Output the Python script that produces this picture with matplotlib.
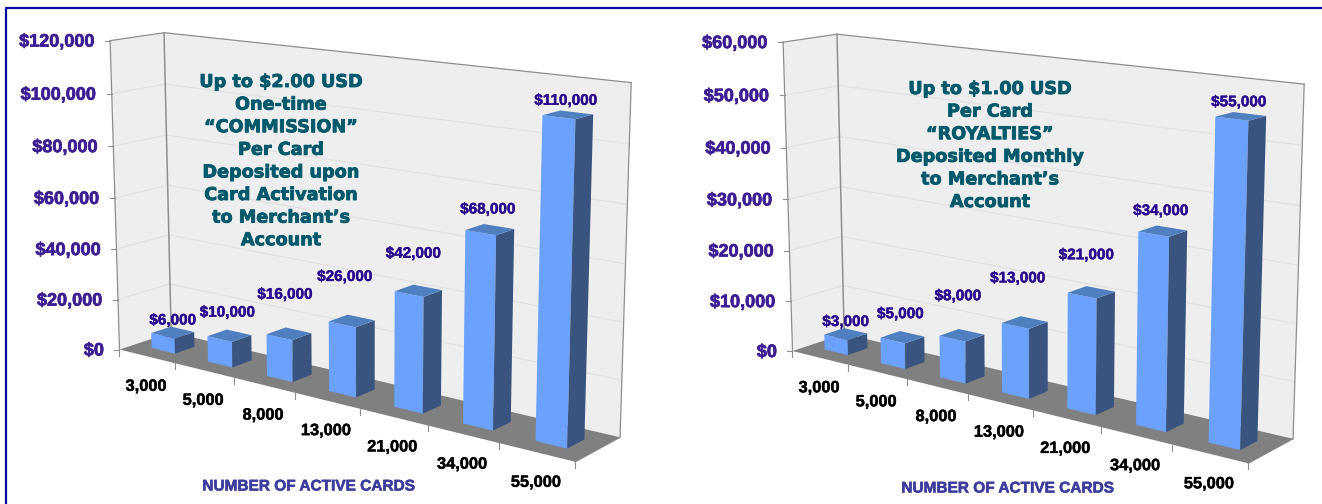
# Two perspective column charts: commission and royalty income by card count.

import numpy as np
import matplotlib
matplotlib.use("Agg")
import matplotlib.pyplot as plt
import matplotlib.patheffects as pe
from matplotlib.patches import Polygon

cards = ["3,000", "5,000", "8,000", "13,000", "21,000", "34,000", "55,000"]
commission = [6000, 10000, 16000, 26000, 42000, 68000, 110000]
royalties = [3000, 5000, 8000, 13000, 21000, 34000, 55000]
commission_ticks = [0, 20000, 40000, 60000, 80000, 100000, 120000]
royalty_ticks = [0, 10000, 20000, 30000, 40000, 50000, 60000]
commission_note = ["Up to $2.00 USD", "One-time", "\u201cCOMMISSION\u201d", "Per Card",
                   "Deposited upon", "Card Activation", "to Merchant\u2019s", "Account"]
royalty_note = ["Up to $1.00 USD", "Per Card", "\u201cROYALTIES\u201d", "Deposited Monthly",
                "to Merchant\u2019s", "Account"]
x_title = "NUMBER OF ACTIVE CARDS"

# hand placed lift of each value label above its column, in pixels
label_lift = [13, 24, 40, 45, 38, 21, 15]
label_shift = [0, -2, -4, -7, -5, -2, -2]

# box corners: (category position 0-1, depth 0-1, value 0-1) -> pixels
BOX_WORLD = [(0, 0, 0), (1, 0, 0), (1, 1, 0), (0, 1, 0),
             (0, 0, 1), (0, 1, 1), (1, 1, 1), (0, 1, 0.5), (1, 1, 0.5)]
BOX_PIXELS = [(119, 349), (575.5, 462), (620, 437), (172, 333),
              (110.4, 41), (164, 32.5), (631.5, 82.5), (167, 185), (625, 264)]

NAVY = "#0a0a9a"
TEAL = "#00596b"
TICK_PURPLE = "#3d1e92"
VALUE_PURPLE = "#2a0a8c"
TITLE_BLUE = "#3c3c9c"
WALL = "#eeeeee"
FLOOR = "#808080"
EDGE = "#8e8e8e"
GRID = "#e0e0e0"
FRONT = "#6ba1ff"
SIDE = "#39557f"
TOP = "#507fbf"

plt.rcParams["font.family"] = ["Liberation Sans", "DejaVu Sans"]
plt.rcParams["font.weight"] = "bold"


def heavy(width, color):
    return [pe.withStroke(linewidth=width, foreground=color)]


def fit_projection(world, pixels):
    rows = []
    for (x, y, z), (u, v) in zip(world, pixels):
        u, v = u / 1000, v / 1000
        rows.append([x, y, z, 1, 0, 0, 0, 0, -u * x, -u * y, -u * z, -u])
        rows.append([0, 0, 0, 0, x, y, z, 1, -v * x, -v * y, -v * z, -v])
    return np.linalg.svd(np.array(rows))[2][-1].reshape(3, 4)


def draw_chart(ax, values, ticks, note, note_xy, title_xy, dx, dy):
    m = fit_projection(BOX_WORLD, BOX_PIXELS)
    n = len(values)
    vmax = ticks[-1]

    def pt(cat, depth, value):
        u, v, w = m @ np.array([cat / n, depth, value / vmax, 1])
        return (1000 * u / w + dx, 1000 * v / w + dy)

    # walls and floor
    ax.add_patch(Polygon([pt(0, 0, 0), pt(0, 1, 0), pt(0, 1, vmax), pt(0, 0, vmax)], fc=WALL, ec="none", zorder=1))
    ax.add_patch(Polygon([pt(0, 1, 0), pt(n, 1, 0), pt(n, 1, vmax), pt(0, 1, vmax)], fc=WALL, ec="none", zorder=1))
    ax.add_patch(Polygon([pt(0, 0, 0), pt(n, 0, 0), pt(n, 1, 0), pt(0, 1, 0)], fc=FLOOR, ec="none", zorder=2))

    # gridlines run along both walls
    for t in ticks[1:-1]:
        ax.plot(*zip(pt(0, 0, t), pt(0, 1, t), pt(n, 1, t)), color=GRID, lw=0.8, zorder=1.5)
    for a, b, w in [((0, 0, 0), (0, 0, vmax), 0.9), ((0, 0, vmax), (0, 1, vmax), 0.9), ((0, 1, 0), (0, 1, vmax), 1.1),
                    ((0, 1, vmax), (n, 1, vmax), 0.9), ((n, 1, 0), (n, 1, vmax), 0.9), ((n, 1, 0), (n, 0, 0), 0.9)]:
        ax.plot(*zip(pt(*a), pt(*b)), color=EDGE, lw=w, zorder=1.6)

    # value axis
    for t in ticks:
        x, y = pt(0, 0, t)
        ax.plot([x - 5, x], [y, y], color=EDGE, lw=0.8, zorder=1.6)
        ax.text(x - 15.5, y + 1.5, f"${t:,}", ha="right", va="center", fontsize=13, color=TICK_PURPLE,
                path_effects=heavy(0.5, TICK_PURPLE))

    # category axis
    for i in range(n + 1):
        x, y = pt(i, 0, 0)
        ax.plot([x, x], [y, y + 6], color=EDGE, lw=0.8, zorder=1.6)
    for i, c in enumerate(cards):
        x, y = pt(i + 0.5, 0, 0)
        ax.text(x - 1, y + 30, c, ha="center", va="center", fontsize=11.8, color="black",
                path_effects=heavy(0.3, "black"))

    # columns
    g, d0, d1 = 0.29, 0.31, 0.69
    for i, val in enumerate(values):
        a, b = i + g, i + 1 - g
        ax.add_patch(Polygon([pt(a, d0, 0), pt(b, d0, 0), pt(b, d0, val), pt(a, d0, val)], fc=FRONT, ec="none", zorder=3 + i))
        ax.add_patch(Polygon([pt(b, d0, 0), pt(b, d1, 0), pt(b, d1, val), pt(b, d0, val)], fc=SIDE, ec="none", zorder=3 + i))
        ax.add_patch(Polygon([pt(a, d0, val), pt(b, d0, val), pt(b, d1, val), pt(a, d1, val)], fc=TOP, ec="none", zorder=3 + i))
        x, y = pt(i + 0.5, 0.5, val)
        ax.text(x + label_shift[i], y - label_lift[i] + 1, f"${val:,}", ha="center", va="center",
                fontsize=11, color=VALUE_PURPLE, zorder=20, path_effects=heavy(0.3, VALUE_PURPLE))

    for k, line in enumerate(note):
        ax.text(note_xy[0], note_xy[1] + 1 + k * 22.6, line, ha="center", va="center", fontsize=12.7,
                family="DejaVu Sans", color=TEAL, zorder=20, path_effects=heavy(0.6, TEAL))

    ax.text(title_xy[0], title_xy[1], x_title, ha="center", va="center", fontsize=11.1,
            color=TITLE_BLUE, path_effects=heavy(0.4, TITLE_BLUE))


fig = plt.figure(figsize=(13.22, 5.04), dpi=100)
ax = fig.add_axes([0, 0, 1, 1])
ax.set_xlim(0, 1322)
ax.set_ylim(504, 0)
ax.axis("off")

# frame around both charts, open at the right and bottom
ax.plot([6.3, 6.3, 1322], [504, 8.3, 8.3], color=NAVY, lw=1.6)

draw_chart(ax, commission, commission_ticks, commission_note, (281, 81), (308, 486.5), 0, 0)
draw_chart(ax, royalties, royalty_ticks, royalty_note, (990, 88), (1007, 488.5), 673, 1.5)

fig.savefig("out.png", dpi=100)
